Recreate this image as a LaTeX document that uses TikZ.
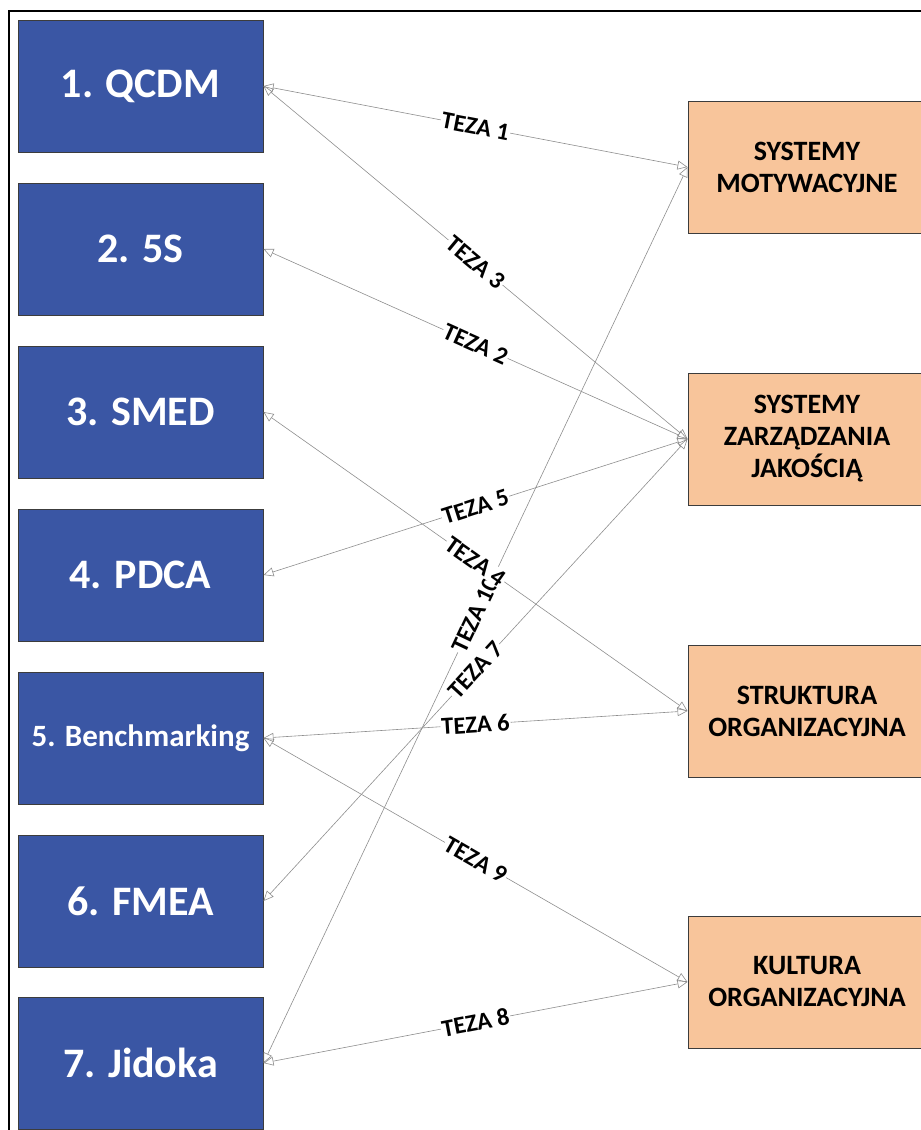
\documentclass[tikz,border=0pt]{standalone}
\usepackage{fontspec}
\setmainfont{Carlito}
\usetikzlibrary{arrows.meta}
\definecolor{toolblue}{HTML}{3A56A4}
\definecolor{areaorange}{HTML}{F8C59B}
\definecolor{edgegray}{HTML}{3C3C3C}
\definecolor{linkgray}{HTML}{8E8E8E}
\begin{document}
\begin{tikzpicture}[x=1pt,y=-1pt,
  toolbox/.style={draw=edgegray, line width=1pt, fill=toolblue, text=white,
    minimum width=245pt, minimum height=132pt, inner sep=0pt,
    font=\fontsize{42}{46}\selectfont\bfseries},
  areabox/.style={draw=edgegray, line width=1pt, fill=areaorange, text=black,
    minimum width=238pt, minimum height=132pt, inner sep=0pt, align=center,
    font=\fontsize{28}{32}\selectfont\bfseries},
  link/.style={draw=linkgray, line width=0.6pt,
    {Triangle[open,length=10pt,width=9pt]}-{Triangle[open,length=10pt,width=9pt]}},
  thesis/.style={midway, sloped, fill=white, inner sep=1pt, text=black,
    font=\fontsize{24.5}{26}\selectfont\bfseries}]
\useasboundingbox (0,0) rectangle (921,1130);
\clip (0,0) rectangle (921,1130);

% outer frame
\draw[line width=2.5pt] (9,11) rectangle (980,1180);

% lean tools (left column)
\node[toolbox] (t1) at (140.5,86)   {1. QCDM};
\node[toolbox] (t2) at (140.5,249)  {2. 5S};
\node[toolbox] (t3) at (140.5,412)  {3. SMED};
\node[toolbox] (t4) at (140.5,575)  {4. PDCA};
\node[toolbox, font=\fontsize{31}{34}\selectfont\bfseries] (t5) at (140.5,738) {5. Benchmarking};
\node[toolbox] (t6) at (140.5,901)  {6. FMEA};
\node[toolbox] (t7) at (140.5,1063) {7. Jidoka};

% organisational areas (right column)
\node[areabox] (a1) at (807,167) {SYSTEMY\\MOTYWACYJNE};
\node[areabox] (a2) at (807,439) {SYSTEMY\\ZARZĄDZANIA\\JAKOŚCIĄ};
\node[areabox] (a3) at (807,711) {STRUKTURA\\ORGANIZACYJNA};
\node[areabox] (a4) at (807,982) {KULTURA\\ORGANIZACYJNA};

% theses linking tools and areas
\draw[link] (t1.east) -- node[thesis] {TEZA 1} (a1.west);
\draw[link] (t1.east) -- node[thesis] {TEZA 3} (a2.west);
\draw[link] (t2.east) -- node[thesis] {TEZA 2} (a2.west);
\draw[link] (t4.east) -- node[thesis] {TEZA 5} (a2.west);
\draw[link] (t7.east) -- node[thesis] {TEZA 10} (a1.west);
\draw[link] (t3.east) -- node[thesis] {TEZA 4} (a3.west);
\draw[link] (t6.east) -- node[thesis] {TEZA 7} (a2.west);
\draw[link] (t5.east) -- node[thesis] {TEZA 6} (a3.west);
\draw[link] (t5.east) -- node[thesis] {TEZA 9} (a4.west);
\draw[link] (t7.east) -- node[thesis] {TEZA 8} (a4.west);
\end{tikzpicture}
\end{document}
